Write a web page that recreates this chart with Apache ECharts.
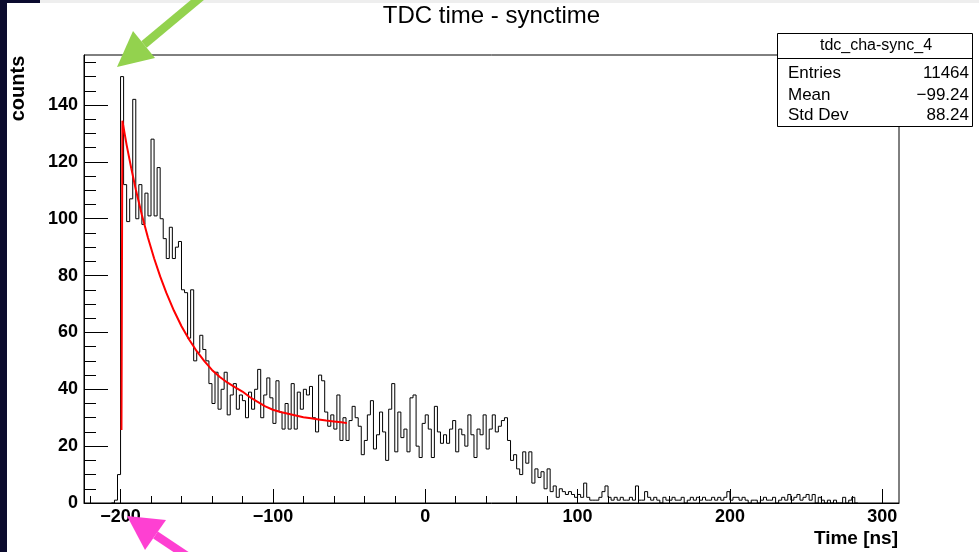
<!DOCTYPE html>
<html>
<head>
<meta charset="utf-8">
<title>TDC time - synctime</title>
<script src="https://cdn.jsdelivr.net/npm/echarts@6/dist/echarts.min.js"></script>
<style>
  html, body { margin: 0; padding: 0; background: #fff; }
  #chart { width: 979px; height: 552px; }
</style>
</head>
<body>
<div id="chart"></div>
<script>
// histogram, 2 ns bins: left edge of first bin + counts
const binStart = -206;
const binWidth = 2;
const counts = [
  0, 1, 10, 150, 112, 99, 107, 142, 100, 112,
  98, 109, 101, 128, 101, 118, 100, 93, 86, 97,
  86, 90, 92, 75, 74, 58, 75, 50, 53, 59,
  54, 50, 42, 35, 46, 33, 40, 46, 31, 38,
  42, 33, 38, 36, 30, 39, 33, 40, 47, 30,
  38, 44, 37, 28, 43, 32, 26, 35, 26, 42,
  26, 39, 33, 40, 38, 41, 30, 25, 45, 43,
  32, 27, 31, 26, 38, 22, 30, 22, 29, 34,
  30, 27, 17, 22, 31, 36, 19, 24, 32, 25,
  15, 33, 42, 18, 32, 23, 26, 18, 37, 38,
  20, 16, 28, 31, 26, 16, 34, 25, 21, 24,
  21, 26, 29, 18, 26, 24, 20, 31, 24, 16,
  26, 24, 31, 19, 26, 31, 25, 27, 29, 30,
  22, 15, 17, 12, 10, 18, 14, 18, 7, 12,
  9, 11, 5, 12, 4, 6, 2, 5, 4, 3,
  4, 3, 2, 3, 2, 7, 2, 1, 1, 1,
  2, 4, 6, 2, 1, 2, 1, 2, 1, 1,
  2, 1, 6, 1, 1, 4, 2, 1, 2, 1,
  0, 2, 1, 1, 2, 1, 1, 2, 0, 1,
  2, 1, 2, 1, 2, 1, 1, 2, 1, 2,
  1, 2, 4, 1, 2, 2, 1, 2, 1, 0,
  1, 1, 0, 1, 2, 1, 1, 2, 0, 1,
  2, 1, 3, 1, 2, 3, 1, 2, 3, 1,
  3, 0, 2, 1, 0, 1, 0, 1, 0, 0,
  2, 0, 1, 2, 0
];

// red fit curve
const fitX = [-199.4, -198.8, -196, -193, -190, -186, -182, -178, -174, -170,
  -165, -160, -155, -150, -145, -140, -135, -130, -125, -120,
  -115, -110, -105, -100, -95, -90, -85, -80, -75, -70,
  -65, -60, -55, -51.4];
const fitY = [25.7, 134.5, 125.9, 117.8, 110.3, 101.3, 93.3, 86.1, 79.7, 74.0,
  67.7, 62.2, 57.5, 53.4, 49.9, 46.8, 44.4, 42.4, 40.8, 39.2,
  37.2, 35.6, 34.0, 32.8, 32.0, 31.4, 30.8, 30.2, 29.8, 29.4,
  29.0, 28.7, 28.4, 28.1];

const xMajorTicks = [-200, -100, 0, 100, 200, 300];
const xMinorTicks = [-220, -200, -180, -160, -140, -120, -100, -80, -60, -40, -20, 0,
  20, 40, 60, 80, 100, 120, 140, 160, 180, 200, 220, 240, 260, 280, 300];
const yMajorTicks = [0, 20, 40, 60, 80, 100, 120, 140];
const yMinorTicks = [5, 10, 15, 20, 25, 30, 35, 40, 45, 50, 55, 60, 65, 70, 75, 80,
  85, 90, 95, 100, 105, 110, 115, 120, 125, 130, 135, 140, 145, 150, 155];

const statsName = 'tdc_cha-sync_4';
const statsRows = [['Entries', '11464'], ['Mean', '\u221299.24'], ['Std Dev', '88.24']];

const FONT = '"Liberation Sans", Arial, Helvetica, sans-serif';

let hist = [];
for (let i = 0; i < counts.length; i++) {
    hist.push([binStart + i * binWidth, counts[i]]);
}
hist.push([binStart + counts.length * binWidth, counts[counts.length - 1]]);

let fit = fitX.map((x, i) => [x, fitY[i]]);

function txt(text, x, y, font, align, vAlign, extra) {
    return Object.assign({
        type: 'text', x: x, y: y, z: 60,
        style: {
            text: text, font: font, fill: '#000',
            align: align, textAlign: align,
            verticalAlign: vAlign, textVerticalAlign: vAlign
        }
    }, extra || {});
}

let graphics = [
    {type: 'rect', z: 100, shape: {x: 0, y: 0, width: 7, height: 552}, style: {fill: '#0b0b2e'}},
    {type: 'rect', z: 100, shape: {x: 0, y: 0, width: 40, height: 3}, style: {fill: '#0b0b2e'}},
    {type: 'rect', z: 100, shape: {x: 40, y: 0, width: 939, height: 3}, style: {fill: '#eeeeee'}},
    txt('TDC time - synctime', 491.5, 16, 'normal 24px ' + FONT, 'center', 'middle'),
    txt('counts', 18, 88.5, 'bold 20px ' + FONT, 'center', 'middle', {rotation: Math.PI / 2}),
    txt('Time [ns]', 898, 539, 'bold 19px ' + FONT, 'right', 'middle'),
    {type: 'rect', z: 50, shape: {x: 777.5, y: 33.5, width: 195, height: 93},
        style: {fill: '#fff', stroke: '#000', lineWidth: 1}},
    {type: 'line', z: 51, shape: {x1: 777.5, y1: 58.5, x2: 972.5, y2: 58.5},
        style: {stroke: '#000', lineWidth: 1}},
    txt(statsName, 876, 46, 'normal 16px ' + FONT, 'center', 'middle')
];
const rowY = [73, 95, 115];
statsRows.forEach((r, i) => {
    graphics.push(txt(r[0], 788, rowY[i], 'normal 17px ' + FONT, 'left', 'middle'));
    graphics.push(txt(r[1], 969, rowY[i], 'normal 17px ' + FONT, 'right', 'middle'));
});
// annotation arrows
graphics.push(
    {type: 'polygon', z: 110, shape: {points: [[141.3, 41.3], [146.7, 47.7], [208.1, -3.5], [202.7, -9.9]]},
        style: {fill: '#93d24e'}},
    {type: 'polygon', z: 110, shape: {points: [[117, 67], [133, 31], [155, 58]]}, style: {fill: '#93d24e'}},
    {type: 'polygon', z: 110, shape: {points: [[153.2, 538.5], [157.8, 531.5], [224.4, 575.9], [219.8, 582.9]]},
        style: {fill: '#fe40d2'}},
    {type: 'polygon', z: 110, shape: {points: [[127, 516], [166, 520], [145, 550]]}, style: {fill: '#fe40d2'}}
);

let myChart = echarts.init(document.getElementById('chart'), null, {renderer: 'canvas'});
let option = {
    animation: false,
    backgroundColor: '#fff',
    grid: {left: 84, top: 55, right: 80, bottom: 49, show: true, borderColor: '#000', borderWidth: 1},
    xAxis: [
        {
            type: 'value', min: -224, max: 311, position: 'bottom',
            axisLine: {show: true, onZero: false, lineStyle: {color: '#000', width: 1}},
            axisTick: {show: true, inside: true, length: 14, customValues: xMajorTicks, lineStyle: {color: '#000'}},
            axisLabel: {
                customValues: xMajorTicks, margin: 5, color: '#000', fontSize: 18, fontWeight: 'bold', fontFamily: FONT,
                formatter: v => (v < 0 ? '\u2212' + Math.abs(v) : '' + v)
            },
            splitLine: {show: false}
        },
        {
            type: 'value', min: -224, max: 311, position: 'bottom',
            axisLine: {show: false, onZero: false},
            axisTick: {show: true, inside: true, length: 7, customValues: xMinorTicks, lineStyle: {color: '#000'}},
            axisLabel: {show: false},
            splitLine: {show: false}
        }
    ],
    yAxis: [
        {
            type: 'value', min: 0, max: 157.6, position: 'left',
            axisLine: {show: true, onZero: false, lineStyle: {color: '#000', width: 1}},
            axisTick: {show: true, inside: true, length: 24, customValues: yMajorTicks, lineStyle: {color: '#000'}},
            axisLabel: {customValues: yMajorTicks, margin: 6, color: '#000', fontSize: 18, fontWeight: 'bold', fontFamily: FONT},
            splitLine: {show: false}
        },
        {
            type: 'value', min: 0, max: 157.6, position: 'left',
            axisLine: {show: false, onZero: false},
            axisTick: {show: true, inside: true, length: 12, customValues: yMinorTicks, lineStyle: {color: '#000'}},
            axisLabel: {show: false},
            splitLine: {show: false}
        }
    ],
    series: [
        {
            name: 'tdc_cha-sync_4', type: 'line', step: 'end', data: hist,
            symbol: 'none', lineStyle: {color: '#000', width: 1}, z: 3
        },
        {
            name: 'fit', type: 'line', data: fit, symbol: 'none',
            lineStyle: {color: '#ff0000', width: 2}, z: 4
        }
    ],
    graphic: graphics
};
myChart.setOption(option);
</script>
</body>
</html>
